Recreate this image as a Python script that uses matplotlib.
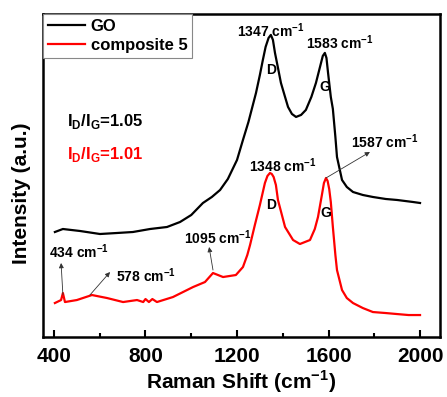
import matplotlib
matplotlib.use("Agg")
import matplotlib.pyplot as plt
from matplotlib.ticker import MultipleLocator

plt.rcParams['font.family'] = ['Liberation Sans', 'DejaVu Sans']
plt.rcParams['font.weight'] = 'bold'
plt.rcParams['mathtext.fontset'] = 'custom'
plt.rcParams['mathtext.rm'] = 'Liberation Sans:bold'
plt.rcParams['mathtext.bf'] = 'Liberation Sans:bold'

# GO spectrum (intensity in arbitrary units)
go_shift = [404, 439, 514, 601, 675, 745, 820, 894, 951, 1000, 1051, 1090, 1126,
            1160, 1200, 1226, 1250, 1283, 1300, 1313, 1325, 1338, 1348, 1357,
            1366, 1380, 1392, 1410, 1423, 1440, 1458, 1480, 1501, 1525, 1545,
            1565, 1575, 1584, 1591, 1598, 1610, 1619, 1630, 1637, 1659, 1680,
            1707, 1750, 1794, 1850, 1900, 1969, 2000]
go_int = [105, 108, 106, 103, 104, 105, 108, 110, 115, 122, 134, 140, 147,
          158, 177, 197, 215, 244, 262, 277, 290, 299, 302, 297,
          284, 268, 254, 240, 230, 223, 220, 222, 227, 240, 254,
          272, 281, 284, 279, 264, 240, 228, 200, 180, 157, 150,
          145, 142, 140, 138, 137, 135, 134]

# composite 5 spectrum
c5_shift = [404, 431, 439, 448, 500, 566, 632, 702, 763, 790, 800, 815, 830, 850,
            920, 1008, 1060, 1095, 1139, 1195, 1226, 1245, 1257, 1278, 1300,
            1322, 1333, 1344, 1352, 1360, 1370, 1379, 1410, 1445, 1475, 1519,
            1540, 1554, 1571, 1580, 1589, 1596, 1603, 1610, 1619, 1630, 1637,
            1659, 1680, 1707, 1750, 1794, 1850, 1899, 1950, 2000]
c5_int = [34, 37, 44, 35, 37, 42, 39, 35, 37, 35, 38, 35, 38, 35,
          40, 50, 55, 64, 60, 62, 70, 82, 92, 112, 132,
          154, 161, 164, 163, 160, 152, 137, 110, 97, 93, 97,
          108, 120, 142, 154, 159, 156, 148, 135, 110, 82, 67,
          47, 39, 34, 29, 25, 24, 23, 22, 22]

fig = plt.figure(figsize=(4.47, 3.97), dpi=100)
ax = fig.add_axes([0.0962, 0.151, 0.888, 0.814])

ax.plot(go_shift, go_int, color='black', lw=1.6, label='GO')
ax.plot(c5_shift, c5_int, color='red', lw=1.6, label='composite 5')

ax.set_xlim(352, 2087)
ax.set_ylim(0, 323)
ax.set_yticks([])
ax.xaxis.set_major_locator(MultipleLocator(400))
ax.xaxis.set_minor_locator(MultipleLocator(200))
ax.tick_params(axis='x', which='major', direction='in', length=5, width=1.5,
               labelsize=15, pad=7)
ax.tick_params(axis='x', which='minor', direction='in', length=3, width=1.5)
for s in ax.spines.values():
    s.set_linewidth(1.8)

ax.set_xlabel('Raman Shift (cm$^{\\mathbf{-1}}$)', fontsize=15, fontweight='bold', labelpad=2)
ax.set_ylabel('Intensity (a.u.)', fontsize=15, fontweight='bold')
ax.yaxis.set_label_coords(-0.03, 0.446)

leg = ax.legend(loc='upper left', fontsize=12, borderaxespad=0, fancybox=False,
                handlelength=2.2, edgecolor='#888888', framealpha=1,
                borderpad=0.3, labelspacing=0.25, handletextpad=0.35)
leg.get_frame().set_linewidth(0.8)

fs = 10
ax.text(1349, 306, '1347 cm$^{\\mathbf{-1}}$', ha='center', va='center', fontsize=fs)
ax.text(1648, 294, '1583 cm$^{\\mathbf{-1}}$', ha='center', va='center', fontsize=fs)
ax.text(1349, 267, 'D', ha='center', va='center', fontsize=fs)
ax.text(1585, 250, 'G', ha='center', va='center', fontsize=fs)
ax.text(1401, 171, '1348 cm$^{\\mathbf{-1}}$', ha='center', va='center', fontsize=fs)
ax.text(1349, 132, 'D', ha='center', va='center', fontsize=fs)
ax.text(1589, 124, 'G', ha='center', va='center', fontsize=fs)
ax.text(1847, 195, '1587 cm$^{\\mathbf{-1}}$', ha='center', va='center', fontsize=fs)
ax.text(1117, 99, '1095 cm$^{\\mathbf{-1}}$', ha='center', va='center', fontsize=fs)
ax.text(509, 85, '434 cm$^{\\mathbf{-1}}$', ha='center', va='center', fontsize=fs)
ax.text(802, 61, '578 cm$^{\\mathbf{-1}}$', ha='center', va='center', fontsize=fs)

ax.text(457, 215, 'I$_\\mathbf{D}$/I$_\\mathbf{G}$=1.05', ha='left', va='center',
        fontsize=12, color='black')
ax.text(457, 182, 'I$_\\mathbf{D}$/I$_\\mathbf{G}$=1.01', ha='left', va='center',
        fontsize=12, color='red')

arrow = dict(arrowstyle='-|>', color='#333333', lw=0.6, mutation_scale=7,
             shrinkA=0, shrinkB=0)
ax.annotate('', xy=(1781, 185), xytext=(1589, 159), arrowprops=arrow)
ax.annotate('', xy=(1078, 90), xytext=(1095, 67), arrowprops=arrow)
ax.annotate('', xy=(431, 74), xytext=(439, 42), arrowprops=arrow)
ax.annotate('', xy=(645, 65), xytext=(557, 42), arrowprops=arrow)

fig.savefig('out.png', dpi=100)
